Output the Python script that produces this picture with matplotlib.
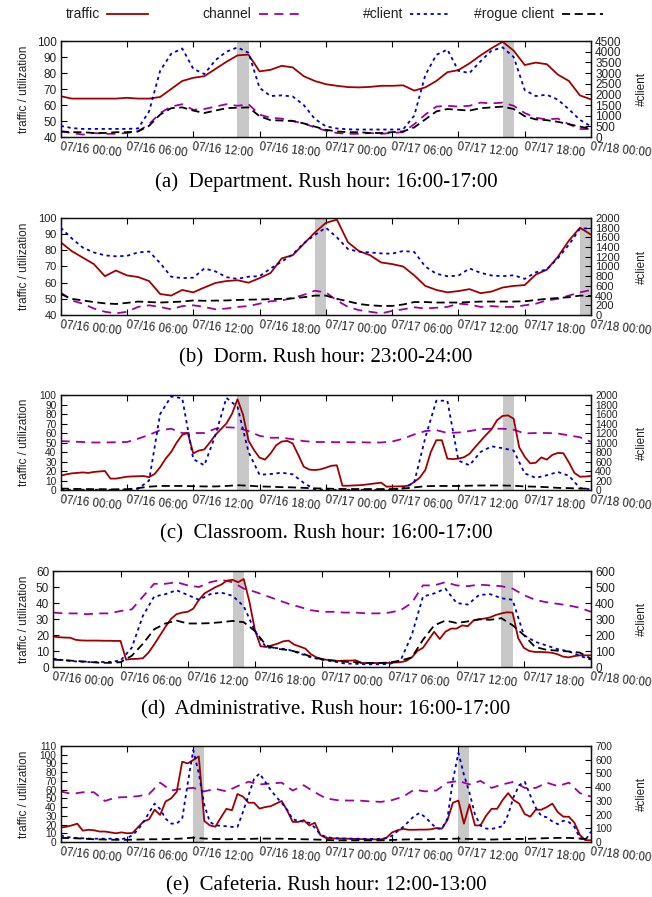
import numpy as np
import matplotlib
matplotlib.use('Agg')
import matplotlib.pyplot as plt
from matplotlib.lines import Line2D

W, H = 652, 897
fig = plt.figure(figsize=(W / 100, H / 100), dpi=100)

SANS = ['Liberation Sans', 'DejaVu Sans']
SERIF = ['Liberation Serif', 'DejaVu Serif']
plt.rcParams['font.family'] = SANS

hours = np.arange(0, 49)
half_hours = np.arange(0, 48.5, 0.5)
tick_hours = [0, 6, 12, 18, 24, 30, 36, 42, 48]
tick_labels = ['07/16 00:00', '07/16 06:00', '07/16 12:00', '07/16 18:00',
               '07/17 00:00', '07/17 06:00', '07/17 12:00', '07/17 18:00',
               '07/18 00:00']
legend_labels = ['traffic', 'channel', '#client', '#rogue client']

# ---------------- (a) Department ----------------
dept_traffic = [65.5, 64, 64, 64, 64, 64, 64.5, 64, 64, 65, 70, 75, 77, 78, 82.5, 87, 91, 91.5, 81, 82,
                84.5, 83.5, 78, 75, 73, 72, 71.2, 71, 71.3, 72, 72, 72.3, 69, 71, 75, 80.5, 81.8, 86, 91, 95.5,
                99.5, 94, 85, 86.5, 85.5, 79, 75, 66, 63.5]
dept_channel = [43.5, 42.5, 41.5, 42.5, 42, 42, 42.5, 43.5, 48, 55, 59, 60.5, 57, 57.5, 59, 60.5, 59.5, 60.5, 54, 52,
                51.5, 50, 48.5, 46, 44, 42.5, 42, 42, 42.5, 42, 42.5, 43, 48, 54, 59, 59.5, 59, 59.5, 61.5, 61,
                61.5, 59.5, 55, 52, 51, 51.5, 48, 45, 45]
dept_client = [520, 420, 380, 380, 380, 380, 380, 400, 1200, 3100, 3900, 4150, 3200, 2950, 3600, 4000, 4200, 3950, 2300, 1920,
               1950, 1900, 1500, 850, 500, 400, 360, 350, 350, 350, 350, 360, 1000, 2900, 3850, 4100, 3100, 3000, 3550, 4050,
               4200, 3750, 2200, 1920, 1980, 1750, 1300, 800, 500]
dept_rogue = [262, 225, 225, 188, 188, 225, 225, 262, 525, 1050, 1350, 1388, 1238, 1125, 1238, 1350, 1372, 1388, 975, 788,
              772, 750, 638, 488, 338, 262, 225, 225, 188, 188, 225, 262, 450, 825, 1200, 1312, 1275, 1238, 1350, 1388,
              1425, 1312, 975, 825, 788, 712, 600, 488, 375]

# ---------------- (b) Dorm ----------------
dorm_traffic = [85, 79.5, 75.5, 71.5, 64, 67.5, 64.5, 63.5, 61, 53, 52, 55.5, 54, 57, 59.8, 61, 61.5, 60, 62.8, 66,
                75, 77, 84, 91, 97, 99, 85, 79.5, 77, 72.5, 71.5, 70, 64.5, 58, 55.5, 54, 54.8, 56, 53.5, 54.5,
                57, 58, 58.5, 65, 68, 76, 86, 94, 89.7]
dorm_channel = [54, 49, 47, 44, 42, 41, 42, 45, 46, 45, 43.5, 45.5, 46, 45, 43.5, 44, 45, 45.5, 47, 48.5,
                49, 50.5, 52.5, 55, 54, 49, 45, 43, 42, 41, 42.5, 43.5, 44.8, 44, 44.5, 45, 47, 46.5, 45, 45.5,
                45, 45, 46, 47, 49, 50, 52, 54, 55.5]
dorm_client = [1800, 1580, 1390, 1290, 1230, 1210, 1220, 1290, 1310, 1070, 790, 760, 770, 960, 900, 780, 745, 790, 800, 960,
               1100, 1250, 1480, 1650, 1800, 1600, 1360, 1305, 1290, 1270, 1265, 1320, 1300, 1000, 850, 800, 810, 960, 870, 815,
               800, 820, 745, 880, 940, 1170, 1450, 1780, 1790]
dorm_rogue = [433, 333, 300, 267, 240, 227, 250, 277, 267, 257, 267, 277, 300, 293, 297, 300, 310, 317, 320, 327,
              333, 343, 367, 400, 400, 333, 283, 227, 200, 187, 187, 217, 267, 267, 257, 257, 257, 267, 277, 277,
              277, 277, 283, 310, 333, 350, 367, 400, 393]

# ---------------- (c) Classroom ----------------
class_traffic = [15, 16.5, 17.5, 18, 18.5, 18, 19, 19.5, 20, 12,
                 12, 13, 14, 14.3, 14.5, 14.7, 13.5, 16.8, 24, 33,
                 40, 50, 58, 60, 38.5, 41.5, 42.7, 50, 58, 64,
                 70, 80, 95.5, 79.5, 52, 42, 34, 32, 38.5, 47,
                 51, 51.7, 49, 37, 24.5, 21.5, 21, 21.7, 23.5, 25.5,
                 26, 4.5, 4.5, 4.8, 5, 5.5, 6.3, 7, 7.7, 3.5,
                 3.7, 3.8, 4, 4.5, 8.5, 13, 21, 40, 52.4, 52.4,
                 33, 32.5, 33, 34.5, 38, 45, 51.5, 58, 64, 73.5,
                 78, 78.5, 75, 45, 35, 28, 28.7, 34.3, 32, 37,
                 39, 38.7, 29, 18, 14, 14.2, 14.7]
class_channel = [51.5, 51, 50.5, 50, 50, 50.3, 50.5, 54, 58, 63, 64.5, 60, 60, 60, 64.5, 66, 65.5, 62, 57, 55,
                 55, 53.5, 51.5, 50.5, 50.5, 50.3, 50.3, 50.3, 50, 50, 51, 54, 58.5, 62, 63, 60, 60.5, 62, 64, 64.5,
                 64.5, 63.5, 59.5, 60, 60, 59.5, 57.5, 55.5, 50.7]
class_client = [5, 5, 5, 5, 5, 5, 10, 25, 200, 1600, 1970, 1930, 650, 520, 1150, 1940, 1750, 800, 320, 336,
                364, 330, 150, 10, 5, 5, 5, 5, 5, 5, 5, 40, 160, 1100, 1880, 1880, 620, 520, 800, 920,
                880, 830, 350, 255, 310, 380, 300, 40, 14]
class_rogue = [30, 25, 20, 18, 16, 14, 16, 40, 70, 85, 85, 85, 80, 75, 75, 85, 100, 90, 75, 70,
               60, 55, 45, 35, 30, 22, 20, 20, 20, 20, 20, 30, 55, 80, 85, 85, 85, 90, 95, 95,
               95, 90, 75, 70, 60, 45, 40, 30, 28]

# ---------------- (d) Administrative ----------------
admin_traffic = [19, 18.6, 18.4, 18.3, 17, 16.6, 16.5, 16.5, 16.5, 16.4,
                 16.4, 16.3, 16.3, 4.6, 5, 5.1, 5.5, 9, 14, 19.5,
                 25, 30, 33, 34, 34.5, 36.5, 42, 46, 48, 50,
                 51.5, 54, 54.5, 53, 55, 41, 23, 13, 12.5, 13.5,
                 14.5, 16, 16.5, 14, 12.8, 11.5, 8, 6, 5, 4.4,
                 4, 3.8, 4, 4, 4.2, 2.5, 2.5, 2.5, 2.5, 2.5,
                 2.6, 2.8, 3, 3.8, 6, 10, 12, 17, 22, 17.5,
                 22, 24, 24, 26, 25.5, 29, 29.8, 30.3, 31, 32.5,
                 33.5, 34.2, 34, 18, 12, 10, 9.4, 9.4, 9.2, 8.9,
                 8, 6.5, 6, 6.8, 7.3, 7.3, 7.3]
admin_channel = [34, 33.5, 33.5, 33, 33.5, 33.5, 35, 36, 44, 52, 52, 53, 51, 50, 53, 54.5, 53, 49, 47, 44.5,
                 42, 39.5, 37.5, 35.5, 34.5, 34.5, 34, 34, 33.5, 33.5, 34, 35.5, 40, 51, 51, 53, 51, 50.5, 51.5, 51,
                 50.5, 49, 45, 42, 40.5, 39.5, 38.5, 37, 34.5]
admin_client = [52, 42, 35, 31, 31, 31, 40, 120, 320, 440, 455, 480, 450, 420, 455, 465, 445, 380, 225, 122,
                118, 108, 85, 60, 45, 35, 22, 20, 17, 17, 19, 40, 200, 440, 460, 490, 400, 390, 450, 455,
                430, 420, 200, 158, 135, 112, 98, 70, 46]
admin_rogue = [46, 42, 38, 33, 27, 26, 30, 70, 145, 235, 272, 290, 272, 272, 274, 280, 288, 280, 225, 135,
               113, 106, 90, 65, 48, 40, 33, 30, 26, 25, 28, 40, 60, 170, 260, 290, 275, 285, 298, 295,
               305, 261, 200, 125, 108, 102, 97, 90, 52]

# ---------------- (e) Cafeteria ----------------
cafe_traffic = [16.5, 17.5, 19, 21, 13, 14, 13.5, 12, 12, 11,
                10, 11, 10, 10.3, 17, 23.5, 26, 37, 31, 46.5,
                50, 57.5, 92, 90, 94, 98, 24, 19, 17.5, 28,
                38, 36.4, 55, 52, 45, 45, 38.3, 40, 41, 44,
                47, 36, 23, 23, 25, 19, 22, 8, 4.6, 4.3,
                4, 4, 3.8, 3.6, 3.4, 3.2, 3, 3, 3, 5,
                11, 13.5, 15, 14, 14, 14.2, 14.2, 14.5, 16, 15.3,
                25, 45, 47.5, 21, 43, 19, 19, 30, 38, 38,
                48, 56, 48, 44, 32, 29, 37, 37, 40, 44,
                34, 29, 29, 22, 8, 2, 2]
cafe_channel = [58, 55, 57, 57, 47, 51, 51.5, 52.5, 55, 68, 59, 61, 62, 58, 61, 58, 64, 69, 66, 67,
                68, 59, 65, 57, 50, 48, 47.5, 47.5, 46.5, 46, 48, 52, 60, 58, 59, 68, 70, 66, 70, 62,
                66, 69, 62, 62, 68, 64, 68, 56, 52]
cafe_client = [49, 37, 32, 29, 27, 25, 24, 24, 24, 24,
               23, 22, 28, 50, 90, 146, 215, 280, 240, 170,
               134, 134, 170, 430, 670, 500, 270, 146, 122, 118,
               115, 110, 110, 220, 340, 460, 500, 440, 380, 330,
               285, 235, 165, 155, 148, 140, 105, 55, 38, 30,
               27, 25, 24, 24, 24, 23, 22, 22, 22, 28,
               45, 80, 110, 150, 190, 212, 180, 140, 100, 95,
               170, 450, 650, 490, 360, 200, 120, 98, 95, 105,
               115, 200, 330, 414, 440, 340, 250, 190, 180, 150,
               130, 155, 145, 110, 28, 15, 76]
cafe_rogue = [30, 28, 25, 20, 18, 16, 16, 18, 20, 20, 22, 25, 32, 25, 22, 20, 22, 22, 25, 25,
              24, 22, 20, 18, 15, 12, 12, 12, 12, 12, 15, 18, 20, 20, 22, 22, 25, 22, 20, 18,
              20, 22, 22, 25, 28, 30, 30, 25, 20]

RED = '#a00000'
PURPLE = '#a000a0'
BLUE = '#0000c0'
BLACK = '#000000'
LW = 1.3
STY = {
    'traffic': dict(color=RED, lw=LW, solid_joinstyle='round'),
    'channel': dict(color=PURPLE, lw=LW, dashes=(5, 3.5)),
    'client': dict(color=BLUE, lw=LW, dashes=(1.8, 2.0)),
    'rogue': dict(color=BLACK, lw=LW, dashes=(4.5, 2.5)),
}
TXT = '#222222'


def panel(box, tx, traffic, cx, channel, kx, client, rx, rogue, rush,
          ylim, yticks, y2lim, y2ticks, caption, cap_y, ysize=8.5):
    l, r, t, b = box
    ax = fig.add_axes([l / W, 1 - b / H, (r - l) / W, (b - t) / H])
    ax2 = ax.twinx()
    for s, e in rush:
        ax.axvspan(s, e, color='#c8c8c8', lw=0, zorder=0)
    ax.plot(tx, traffic, zorder=3, **STY['traffic'])
    ax.plot(cx, channel, zorder=2, **STY['channel'])
    ax2.plot(kx, client, zorder=3, **STY['client'])
    ax2.plot(rx, rogue, zorder=4, **STY['rogue'])
    ax.set_xlim(0, 48)
    ax.set_ylim(*ylim)
    ax2.set_ylim(*y2lim)
    ax.set_yticks(yticks)
    ax2.set_yticks(y2ticks)
    ax.set_xticks(tick_hours)
    ax.set_xticklabels(tick_labels, rotation=-6, ha='left', va='top',
                       rotation_mode='anchor')
    ax.tick_params(axis='x', direction='in', length=4, top=True, pad=3,
                   labelsize=8.3, colors=BLACK, labelcolor=TXT)
    ax.tick_params(axis='y', direction='in', length=4, right=False, pad=3,
                   labelsize=ysize, colors=BLACK, labelcolor=TXT)
    ax2.tick_params(axis='y', direction='in', length=4, pad=3,
                    labelsize=ysize, colors=BLACK, labelcolor=TXT)
    for sp in list(ax.spines.values()) + list(ax2.spines.values()):
        sp.set_linewidth(0.9)
        sp.set_color('#111111')
    ax.set_zorder(1)
    ax.patch.set_visible(False)
    ax2.set_zorder(2)
    cy = 1 - ((t + b) / 2) / H
    fig.text(24 / W, cy, 'traffic / utilization', rotation=90, ha='center',
             va='center', fontsize=8.5, color=TXT)
    fig.text(642 / W, cy, '#client', rotation=90, ha='center', va='center',
             fontsize=8.5, color=TXT)
    fig.text(0.5, 1 - cap_y / H, caption, ha='center', va='center',
             fontsize=15, family=SERIF, color='black')


panel((60.7, 591, 41, 137), hours, dept_traffic, hours, dept_channel,
      hours, dept_client, hours, dept_rogue, [(16, 17), (40, 41)],
      (40, 100), range(40, 101, 10), (0, 4500), range(0, 4501, 500),
      '(a)  Department. Rush hour: 16:00-17:00', 182)
panel((60.7, 591, 218, 315), hours, dorm_traffic, hours, dorm_channel,
      hours, dorm_client, hours, dorm_rogue, [(23, 24), (47, 48)],
      (40, 100), range(40, 101, 10), (0, 2000), range(0, 2001, 200),
      '(b)  Dorm. Rush hour: 23:00-24:00', 358, ysize=8)
panel((60.7, 591, 395, 490), half_hours, class_traffic, hours, class_channel,
      hours, class_client, hours, class_rogue, [(16, 17), (40, 41)],
      (0, 100), range(0, 101, 10), (0, 2000), range(0, 2001, 200),
      '(c)  Classroom. Rush hour: 16:00-17:00', 534, ysize=7.3)
panel((53.3, 591, 571, 667), half_hours, admin_traffic, hours, admin_channel,
      hours, admin_client, hours, admin_rogue, [(16, 17), (40, 41)],
      (0, 60), range(0, 61, 10), (0, 600), range(0, 601, 100),
      '(d)  Administrative. Rush hour: 16:00-17:00', 710)
panel((60.7, 591, 746, 842), half_hours, cafe_traffic, hours, cafe_channel,
      half_hours, cafe_client, hours, cafe_rogue, [(12, 13), (36, 37)],
      (0, 110), range(0, 111, 10), (0, 700), range(0, 701, 100),
      '(e)  Cafeteria. Rush hour: 12:00-13:00', 886, ysize=7.3)

# legend (text left of sample, gnuplot style)
keys = ['traffic', 'channel', 'client', 'rogue']
for i, (lab, k) in enumerate(zip(legend_labels, keys)):
    xe = 100 + 151.5 * i
    yy = 1 - 14 / H
    fig.text(xe / W, yy, lab, ha='right', va='center', fontsize=10, color=TXT)
    fig.add_artist(Line2D([(xe + 7) / W, (xe + 48) / W], [yy, yy],
                          transform=fig.transFigure, **STY[k]))

fig.savefig('out.png', dpi=100)
